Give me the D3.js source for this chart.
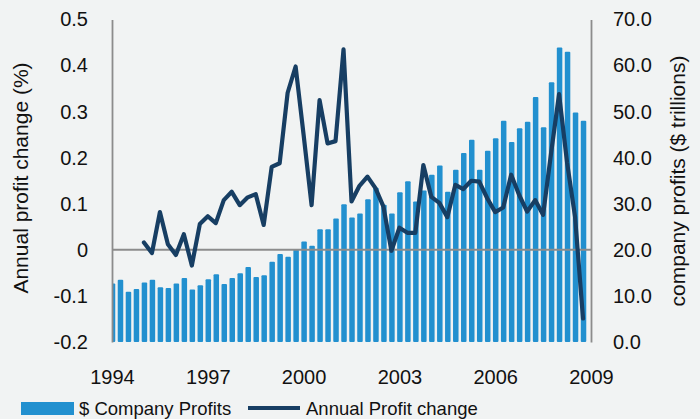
<!DOCTYPE html>
<html>
<head>
<meta charset="utf-8">
<script src="https://cdn.jsdelivr.net/npm/d3@7"></script>
<style>
  body { margin: 0; background: #f1f3f3; }
  svg { display: block; font-family: "Liberation Sans", Arial, sans-serif; }
  .axis text { fill: #111; }
</style>
</head>
<body>
<div id="chart"></div>
<script>
// quarterly company profits ($ trillions), 1994 Q1 .. 2008 Q4
var firstYear = 1994;
var profits = [
  12.7, 13.5, 10.9, 11.5, 12.9, 13.5, 11.9, 11.7, 12.7, 13.9,
  11.4, 12.3, 13.6, 14.7, 12.6, 13.9, 14.9, 16.3, 14.1, 14.5,
  17.4, 19.1, 18.5, 20.1, 21.8, 20.9, 24.5, 24.5, 26.8, 29.9,
  27.0, 27.9, 31.0, 33.5, 29.8, 27.9, 32.5, 34.9, 30.5, 32.9,
  36.3, 38.3, 32.6, 37.4, 41.0, 43.9, 37.4, 41.5, 44.2, 48.0,
  43.4, 46.4, 47.8, 53.2, 46.6, 56.4, 63.9, 63.0, 49.8, 48.0
];
// annual profit change, 1995 Q1 .. 2008 Q4
var changeStart = 1995;
var profitChange = [
  0.016, -0.007, 0.082, 0.012, -0.011, 0.034, -0.034, 0.056, 0.073, 0.058,
  0.108, 0.126, 0.097, 0.114, 0.121, 0.054, 0.180, 0.188, 0.341, 0.398,
  0.250, 0.097, 0.325, 0.231, 0.236, 0.435, 0.105, 0.139, 0.159, 0.134,
  0.094, -0.002, 0.048, 0.037, 0.037, 0.184, 0.115, 0.102, 0.071, 0.141,
  0.132, 0.150, 0.148, 0.112, 0.082, 0.092, 0.163, 0.119, 0.083, 0.108,
  0.076, 0.210, 0.338, 0.190, 0.072, -0.149
];
var yearTicks = [1994, 1997, 2000, 2003, 2006, 2009];
var leftTicks = [-0.2, -0.1, 0, 0.1, 0.2, 0.3, 0.4, 0.5];
var rightTicks = [0, 10, 20, 30, 40, 50, 60, 70];

var width = 700, height = 419;
var plotLeft = 112, plotRight = 591, plotTop = 19.5, plotBottom = 342;
var barColor = "#2290cf", lineColor = "#173e63", axisColor = "#8c8c8c";

var svg = d3.select("#chart").append("svg")
    .attr("width", width)
    .attr("height", height);

var x = d3.scaleLinear().domain([1994, 2009]).range([plotLeft, plotRight]);
var yL = d3.scaleLinear().domain([-0.2, 0.5]).range([plotBottom, plotTop]);
var yR = d3.scaleLinear().domain([0, 70]).range([plotBottom, plotTop]);

svg.append("clipPath").attr("id", "plot")
  .append("rect")
    .attr("x", plotLeft).attr("y", 0)
    .attr("width", plotRight - plotLeft).attr("height", plotBottom);

var barW = 5.5;
svg.append("g").attr("clip-path", "url(#plot)")
  .selectAll("rect")
    .data(profits)
  .enter().append("rect")
    .attr("x", function(d, i) { return x(firstYear + i * 0.25) + 0.5 - barW / 2; })
    .attr("width", barW)
    .attr("y", function(d) { return yR(d); })
    .attr("height", function(d) { return plotBottom - yR(d); })
    .attr("rx", 1)
    .style("fill", barColor);

// zero line
svg.append("line")
    .attr("x1", plotLeft).attr("x2", plotRight)
    .attr("y1", yL(0)).attr("y2", yL(0))
    .style("stroke", axisColor)
    .style("stroke-width", 2);

var line = d3.line()
    .x(function(d, i) { return x(changeStart + i * 0.25); })
    .y(function(d) { return yL(d); });

svg.append("path")
    .datum(profitChange)
    .attr("d", line)
    .style("fill", "none")
    .style("stroke", lineColor)
    .style("stroke-width", 4.2)
    .style("stroke-linejoin", "round")
    .style("stroke-linecap", "round");

// axes
var fmtL = function(d) { return d === 0 ? "0" : d.toFixed(1); };
var gL = svg.append("g")
    .attr("class", "axis")
    .attr("transform", "translate(" + plotLeft + ",0)")
    .call(d3.axisLeft(yL).tickValues(leftTicks).tickFormat(fmtL).tickSize(0).tickPadding(24));

var gR = svg.append("g")
    .attr("class", "axis")
    .attr("transform", "translate(" + plotRight + ",0)")
    .call(d3.axisRight(yR).tickValues(rightTicks).tickFormat(d3.format(".1f")).tickSize(0).tickPadding(22));

var gX = svg.append("g")
    .attr("class", "axis")
    .attr("transform", "translate(0," + plotBottom + ")")
    .call(d3.axisBottom(x).tickValues(yearTicks).tickFormat(d3.format("d")).tickSize(0).tickPadding(28));
gX.select(".domain").remove();

svg.selectAll(".axis text")
    .style("font-size", "20px")
    .style("font-family", "'Liberation Sans', Arial, sans-serif");

svg.selectAll(".axis .domain")
    .style("stroke", axisColor)
    .style("stroke-width", 1.8);

// axis titles
svg.append("text")
    .attr("transform", "translate(28," + 178 + ") rotate(-90)")
    .style("text-anchor", "middle")
    .style("font-size", "21px")
    .style("fill", "#111")
    .text("Annual profit change (%)");

svg.append("text")
    .attr("transform", "translate(685," + 181 + ") rotate(-90)")
    .style("text-anchor", "middle")
    .style("font-size", "21px")
    .style("fill", "#111")
    .text("company profits ($ trillions)");

// legend
var legend = svg.append("g").style("font-size", "18.5px").style("fill", "#111");
legend.append("rect")
    .attr("x", 21).attr("y", 402)
    .attr("width", 53).attr("height", 13)
    .style("fill", barColor);
legend.append("text")
    .attr("x", 79).attr("y", 414.5)
    .text("$ Company Profits");
legend.append("line")
    .attr("x1", 248).attr("x2", 300)
    .attr("y1", 408).attr("y2", 408)
    .style("stroke", lineColor)
    .style("stroke-width", 4);
legend.append("text")
    .attr("x", 306).attr("y", 414.5)
    .text("Annual Profit change");
</script>
</body>
</html>
